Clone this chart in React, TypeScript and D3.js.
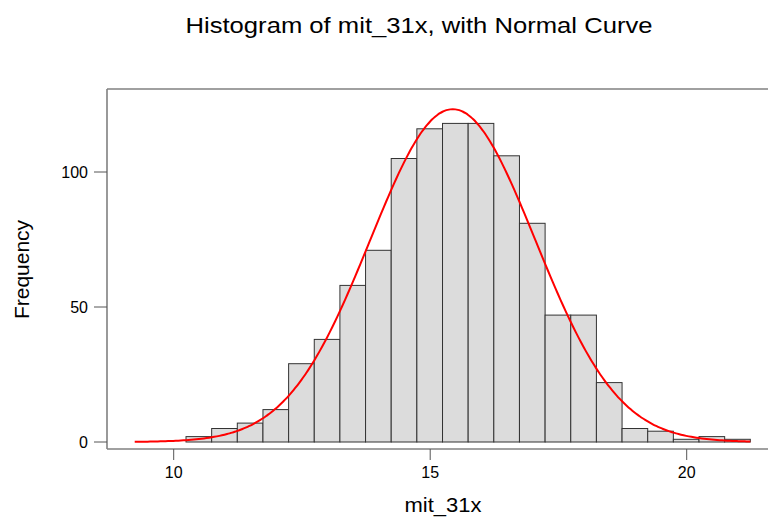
import * as d3 from "d3";

// bin edges start at 10.24, width 0.5
const binStart = 10.24;
const binWidth = 0.5;
const counts = [2, 5, 7, 12, 29, 38, 58, 71, 105, 116, 118, 118, 106, 81, 47, 47, 22, 5, 4, 1, 2, 1];
const xTicks = [10, 15, 20];
const yTicks = [0, 50, 100];

// fitted normal curve parameters
const curveMean = 15.44;
const curveSd = 1.61;
const curveFrom = 9.24;
const curveTo = 21.24;

const W = 768;
const H = 517;
const font = "'Liberation Sans', Arial, sans-serif";

const App = () => {
  const x = d3.scaleLinear().domain([10, 20]).range([173.7, 686.7]);
  const y = d3.scaleLinear().domain([0, 100]).range([442, 172]);

  const frameLeft = 107;
  const frameTop = 89;
  const frameBottom = 449;

  const total = d3.sum(counts);
  const density = (v: number) =>
    (total * binWidth) / (curveSd * Math.sqrt(2 * Math.PI)) *
    Math.exp(-0.5 * ((v - curveMean) / curveSd) ** 2);
  const curvePts = d3.range(curveFrom, curveTo + 0.001, 0.05).map((v) => [v, density(v)] as [number, number]);
  const line = d3
    .line<[number, number]>()
    .x((d) => x(d[0]))
    .y((d) => y(d[1]))
    .curve(d3.curveBasis);

  return (
    <svg width={W} height={H} style={{ position: "absolute", left: 0, top: 0, background: "#fff" }}>
      <text
        x={419}
        y={33}
        textAnchor="middle"
        fontFamily={font}
        fontSize={21.5}
        textLength={467}
        lengthAdjust="spacingAndGlyphs"
        fill="#000"
      >
        Histogram of mit_31x, with Normal Curve
      </text>

      {counts.map((c, i) => {
        const x0 = binStart + i * binWidth;
        return (
          <rect
            key={i}
            x={x(x0)}
            y={y(c)}
            width={x(x0 + binWidth) - x(x0)}
            height={y(0) - y(c)}
            fill="#dcdcdc"
            stroke="#333"
            strokeWidth={1}
          />
        );
      })}

      <path d={line(curvePts) || ""} fill="none" stroke="#ff0000" strokeWidth={2} />

      {/* frame, open on the right */}
      <g stroke="#808080" strokeWidth={1.6} fill="none">
        <line x1={frameLeft} y1={frameTop} x2={W} y2={frameTop} />
        <line x1={frameLeft} y1={frameTop} x2={frameLeft} y2={frameBottom} />
        <line x1={frameLeft} y1={frameBottom} x2={W} y2={frameBottom} />
      </g>

      {yTicks.map((t) => (
        <g key={t}>
          <line x1={94} x2={frameLeft} y1={y(t)} y2={y(t)} stroke="#555" strokeWidth={1} />
          <text x={88} y={y(t) + 6} textAnchor="end" fontFamily={font} fontSize={16} fill="#000">
            {t}
          </text>
        </g>
      ))}

      {xTicks.map((t) => (
        <g key={t}>
          <line x1={x(t)} x2={x(t)} y1={frameBottom} y2={460} stroke="#555" strokeWidth={1} />
          <text x={x(t)} y={478} textAnchor="middle" fontFamily={font} fontSize={16} fill="#000">
            {t}
          </text>
        </g>
      ))}

      <text
        x={443}
        y={512}
        textAnchor="middle"
        fontFamily={font}
        fontSize={20}
        textLength={77}
        lengthAdjust="spacingAndGlyphs"
        fill="#000"
      >
        mit_31x
      </text>
      <text
        transform="translate(29,269.5) rotate(-90)"
        textAnchor="middle"
        fontFamily={font}
        fontSize={21}
        fill="#000"
      >
        Frequency
      </text>
    </svg>
  );
};

export default App;
